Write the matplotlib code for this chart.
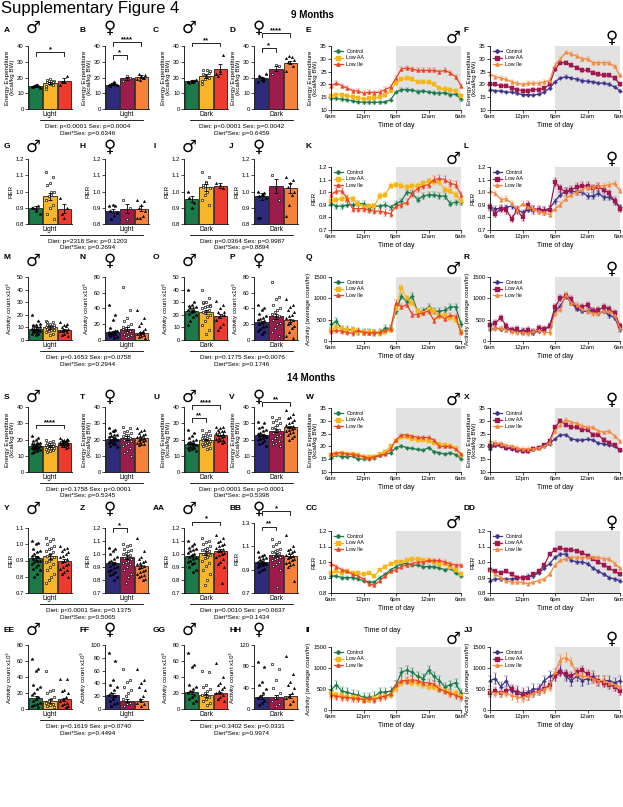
"""Supplementary Figure 4: energy expenditure, RER and activity at 9 and 14 months."""

import matplotlib.pyplot as plt
import numpy as np
from matplotlib.lines import Line2D

plt.rcParams["font.family"] = ["Liberation Sans", "DejaVu Sans"]

W, H = 623, 807

GROUPS = ["Control", "Low AA", "Low Ile"]
HOURS = np.arange(25)
HOUR_TICKS = [0, 6, 12, 18, 24]
HOUR_LABELS = ["6am", "12pm", "6pm", "12am", "6am"]

BAR_COLORS = {"m": ["#1c7a4a", "#f7b52a", "#ee3b2f"], "f": ["#2f2b7c", "#9c1c4b", "#f5813a"]}
LINE_COLORS = {"m": ["#1b7a4b", "#f6b619", "#ef4423"], "f": ["#3b3289", "#a0174f", "#f7883b"]}

# ---------------- 9 months: bar panels ----------------
A_MEAN, A_SEM = [14.5, 16.5, 18.0], [0.5, 0.8, 1.5]
A_PTS = [[14, 14.5, 15, 14, 13.5, 15, 14.5], [13, 15, 16, 17, 17.5, 18, 16.5, 14.5, 17, 19, 18.5], [15, 21, 18, 17]]
A_SIG = [(0, 2, 36, "*")]
B_MEAN, B_SEM = [15.5, 19.5, 20.5], [0.5, 1.0, 1.0]
B_PTS = [[15, 16, 16.5, 14.5, 15.5, 17, 16], [18, 20, 21], [19, 20, 21, 22, 21.5, 20, 18.5]]
B_SIG = [(0, 1, 34, "*"), (0, 2, 42.5, "****")]
C_MEAN, C_SEM = [17.5, 21.0, 25.5], [0.7, 1.2, 3.0]
C_PTS = [[17, 18, 17.5, 16.5, 18.5, 17], [18, 20, 21, 22, 24, 25, 19, 16, 23, 20.5, 25], [22, 34, 24, 21]]
C_SIG = [(0, 2, 42, "**")]
D_MEAN, D_SEM = [19.5, 25.5, 29.5], [1.0, 1.5, 1.2]
D_PTS = [[17, 19, 20, 21, 22, 18, 20.5], [22, 27, 28], [24, 27, 29, 30, 31, 33, 33.5, 32.5]]
D_SIG = [(0, 1, 38.5, "*"), (0, 2, 48, "****")]

G_MEAN, G_SEM = [0.90, 0.97, 0.895], [0.01, 0.02, 0.03]
G_PTS = [[0.9, 0.91, 0.88, 0.9, 0.86],
         [1.12, 1.09, 1.05, 1.04, 1.0, 0.98, 0.97, 0.95, 0.92, 0.9, 0.86, 0.83, 1.0],
         [0.96, 0.9, 0.84, 0.86]]
H_MEAN, H_SEM = [0.88, 0.895, 0.895], [0.01, 0.03, 0.015]
H_PTS = [[0.91, 0.91, 0.92, 0.88, 0.87, 0.85, 0.83], [0.95, 0.9, 0.83],
         [0.95, 0.94, 0.92, 0.9, 0.88, 0.85, 0.84, 0.84]]
I_MEAN, I_SEM = [0.955, 1.025, 1.035], [0.02, 0.02, 0.015]
I_PTS = [[1.0, 0.93, 0.9, 0.96], [1.12, 1.09, 1.06, 1.04, 1.02, 1.0, 0.98, 0.95, 0.92, 1.05, 1.03],
         [1.05, 1.02, 1.04]]
J_MEAN, J_SEM = [0.97, 1.035, 1.02], [0.02, 0.045, 0.03]
J_PTS = [[1.0, 0.99, 0.98, 0.97, 0.96, 0.98, 0.84, 0.84], [1.1, 0.95, 1.03],
         [1.09, 1.07, 1.05, 1.03, 1.0, 0.98, 0.92, 0.85]]

M_MEAN, M_SEM = [9, 10, 8], [1, 1, 1]
M_PTS = [[20, 15, 12, 11, 10, 10, 9, 9, 8, 8, 7, 7, 6, 6, 5, 5, 4, 12, 13, 8],
         [15, 14, 13, 12, 12, 11, 11, 10, 10, 9, 9, 8, 8, 7, 6, 5, 4, 14, 10],
         [14, 13, 12, 10, 9, 8, 8, 7, 6, 5, 4, 3, 11, 7]]
N_MEAN, N_SEM = [10, 13.5, 9], [1.5, 2.5, 1.5]
N_PTS = [[44, 32, 25, 15, 12, 10, 9, 8, 7, 6, 5, 4, 3, 8, 10, 12],
         [67, 38, 28, 24, 20, 18, 15, 14, 12, 10, 8, 6, 5, 4, 16, 12],
         [38, 28, 22, 18, 14, 12, 10, 8, 6, 5, 4, 3, 9, 7]]
O_MEAN, O_SEM = [23, 22.5, 19], [1, 1.5, 1.5]
O_PTS = [[40, 30, 28, 27, 26, 25, 25, 24, 23, 22, 21, 20, 18, 15, 12],
         [40, 33, 30, 29, 28, 27, 26, 25, 24, 23, 22, 20, 18, 15, 12, 8, 5, 30, 27],
         [31, 28, 25, 22, 20, 20, 18, 16, 13, 10, 8, 22]]
P_MEAN, P_SEM = [23, 30, 25], [1.5, 3, 2]
P_PTS = [[45, 40, 38, 33, 30, 28, 27, 25, 24, 22, 20, 18, 16, 14, 12, 10, 8],
         [74, 55, 52, 45, 40, 38, 35, 33, 30, 28, 25, 22, 20, 15, 10, 5],
         [52, 45, 42, 38, 35, 32, 30, 28, 25, 22, 20, 18, 15, 10, 5, 3]]

# ---------------- 14 months: bar panels ----------------
S_MEAN, S_SEM = [16, 16, 18], [0.4, 0.4, 0.3]
S_PTS = [[22, 21, 20, 19, 18, 18, 17.5, 17, 17, 16.5, 16, 16, 15.5, 15, 15, 14.5, 14, 14, 13.5, 13, 12.5, 12],
         [20, 19, 18.5, 18, 17.5, 17, 17, 16.5, 16, 16, 15.5, 15, 15, 14.5, 14, 13.5, 13, 12.5],
         [21, 20.5, 20, 20, 19.5, 19, 19, 18.5, 18.5, 18, 18, 17.5, 17.5, 17, 17, 16.5, 16, 16, 15.5, 15]]
S_SIG = [(0, 2, 29, "****")]
T_MEAN, T_SEM = [20.5, 21, 21], [0.8, 1.2, 0.8]
T_PTS = [[27, 26, 25, 24, 23, 22.5, 22, 21.5, 21, 20.5, 20, 19.5, 19, 18.5, 18, 17.5, 17, 16, 15.5, 25.5],
         [28, 27, 25, 24.5, 24, 23, 22.5, 22, 21, 20.5, 20, 19, 18, 17, 16, 15, 13, 12, 10],
         [27, 26, 25, 24, 23.5, 23, 22, 21.5, 21, 20.5, 20, 19.5, 19, 18.5, 18, 17.5, 17, 16.5]]
U_MEAN, U_SEM = [17.5, 20, 22.5], [0.5, 0.5, 0.4]
U_PTS = [[26, 24, 22, 21, 20, 19, 18.5, 18, 17.5, 17, 17, 16.5, 16, 15.5, 15, 14.5, 14, 13.5, 13],
         [26, 25, 24, 23, 22.5, 22, 21.5, 21, 20.5, 20, 19.5, 19, 18.5, 18, 17.5, 17, 16.5, 16, 15, 14],
         [28, 27.5, 27, 26, 25.5, 25, 24.5, 24, 23.5, 23, 22.5, 22, 21.5, 21, 20.5, 20, 19.5, 19, 18.5, 18]]
U_SIG = [(0, 1, 33, "**"), (0, 2, 41, "****")]
V_MEAN, V_SEM = [22.5, 25.5, 27.5], [0.6, 1.0, 0.6]
V_PTS = [[31, 30, 28, 27, 26, 25, 24, 23.5, 23, 22.5, 22, 21.5, 21, 20.5, 20, 19, 18, 17, 16],
         [34, 33, 32, 31, 30, 29, 28, 27, 26, 25, 24, 23, 22, 21, 20, 19, 18, 17, 16],
         [38, 36, 34, 33, 32, 31, 30, 29, 28.5, 28, 27.5, 27, 26.5, 26, 25, 24.5, 24, 23, 22, 21, 20]]
V_SIG = [(0, 2, 43, "**")]

Y_MEAN, Y_SEM = [0.915, 0.925, 0.90], [0.01, 0.015, 0.012]
Y_PTS = [[1.02, 1.01, 1.0, 0.97, 0.96, 0.95, 0.94, 0.93, 0.92, 0.92, 0.91, 0.9, 0.9, 0.89, 0.88, 0.87, 0.86, 0.85, 0.84, 0.82, 0.8],
         [1.04, 1.03, 1.02, 1.0, 0.99, 0.98, 0.97, 0.96, 0.95, 0.94, 0.93, 0.92, 0.91, 0.9, 0.89, 0.88, 0.86, 0.84, 0.82, 0.8, 0.78, 0.76],
         [0.99, 0.98, 0.97, 0.96, 0.95, 0.94, 0.93, 0.92, 0.91, 0.9, 0.89, 0.88, 0.87, 0.86, 0.85, 0.84, 0.83, 0.82, 0.8]]
Z_MEAN, Z_SEM = [0.93, 0.975, 0.905], [0.012, 0.015, 0.012]
Z_PTS = [[1.05, 1.04, 1.02, 1.0, 0.98, 0.96, 0.95, 0.94, 0.93, 0.92, 0.91, 0.9, 0.89, 0.88, 0.87, 0.86, 0.85, 0.84, 0.82, 0.8],
         [1.08, 1.07, 1.06, 1.04, 1.03, 1.02, 1.01, 1.0, 0.99, 0.98, 0.97, 0.96, 0.95, 0.94, 0.93, 0.92, 0.9, 0.88, 0.85, 0.82, 0.78],
         [1.12, 1.02, 0.98, 0.96, 0.95, 0.94, 0.93, 0.92, 0.91, 0.9, 0.89, 0.88, 0.87, 0.86, 0.85, 0.84, 0.83, 0.82, 0.81, 0.8]]
Z_SIG = [(0, 1, 1.2, "*")]
AA_MEAN, AA_SEM = [0.985, 1.01, 1.025], [0.01, 0.015, 0.012]
AA_PTS = [[1.1, 1.08, 1.06, 1.05, 1.04, 1.03, 1.02, 1.01, 1.0, 0.99, 0.98, 0.97, 0.96, 0.95, 0.94, 0.93, 0.92, 0.9, 0.88, 0.86],
          [1.12, 1.1, 1.09, 1.08, 1.06, 1.05, 1.04, 1.03, 1.02, 1.01, 1.0, 0.99, 0.98, 0.97, 0.95, 0.93, 0.91, 0.88, 0.85, 0.8, 0.76],
          [1.15, 1.12, 1.1, 1.09, 1.08, 1.07, 1.06, 1.05, 1.04, 1.03, 1.02, 1.01, 1.0, 0.99, 0.98, 0.96, 0.94, 0.92, 0.9, 0.78]]
AA_SIG = [(0, 2, 1.25, "*")]
BB_MEAN, BB_SEM = [0.965, 1.03, 1.02], [0.01, 0.015, 0.015]
BB_PTS = [[1.05, 1.03, 1.02, 1.01, 1.0, 0.99, 0.98, 0.97, 0.96, 0.96, 0.95, 0.95, 0.94, 0.93, 0.92, 0.91, 0.9, 0.88],
          [1.16, 1.14, 1.12, 1.1, 1.08, 1.07, 1.06, 1.05, 1.04, 1.03, 1.02, 1.01, 1.0, 0.99, 0.98, 0.97, 0.95, 0.93, 0.9, 0.75],
          [1.2, 1.1, 1.08, 1.07, 1.06, 1.05, 1.04, 1.03, 1.02, 1.01, 1.0, 0.99, 0.98, 0.97, 0.96, 0.95, 0.94, 0.92, 0.8]]
BB_SIG = [(0, 1, 1.27, "**"), (0, 2, 1.4, "*")]

EE_MEAN, EE_SEM = [14, 10, 12], [2.5, 2, 2]
EE_PTS = [[62, 50, 48, 30, 28, 25, 20, 18, 15, 12, 10, 8, 6, 5, 4, 3],
          [48, 24, 22, 20, 15, 12, 10, 8, 6, 5, 4, 3],
          [38, 37, 24, 22, 20, 15, 12, 10, 8, 6, 5, 4, 3]]
FF_MEAN, FF_SEM = [22, 13, 13], [3.5, 2.5, 2.5]
FF_PTS = [[87, 75, 45, 38, 35, 30, 25, 22, 20, 15, 12, 10, 8, 5],
          [63, 45, 42, 35, 30, 25, 20, 15, 10, 8, 5],
          [63, 45, 40, 35, 30, 20, 15, 10, 8, 5]]
GG_MEAN, GG_SEM = [21, 17, 20], [2, 1.5, 1.5]
GG_PTS = [[70, 55, 52, 30, 28, 25, 22, 20, 18, 15, 12, 10, 8],
          [47, 46, 30, 28, 25, 22, 20, 18, 15, 12, 10, 8, 5],
          [57, 40, 32, 30, 28, 25, 22, 20, 18, 15, 12, 10]]
HH_MEAN, HH_SEM = [22, 22, 25], [4, 4, 4]
HH_PTS = [[88, 78, 50, 45, 38, 30, 25, 20, 15, 12, 8],
          [85, 75, 55, 40, 30, 25, 20, 15, 10, 5],
          [100, 65, 50, 45, 40, 30, 25, 20, 15, 10]]

# ---------------- time courses (6am -> 6am, hourly) ----------------
E_CTRL = [14.5, 14.5, 14.2, 14, 13.5, 13.2, 13, 13, 13, 13, 13.2, 14, 17, 18, 18, 17.8, 17.2, 17.5, 17, 16.8, 16.5, 16.8, 16, 16.2, 14.2]
E_AA = [15.5, 16, 16, 15.5, 15.2, 14.8, 14.2, 14.5, 14.8, 15, 15.8, 17.5, 20.5, 22, 22.5, 22, 21, 21, 20.8, 20, 18.5, 18.2, 18, 17.5, 15.5]
E_ILE = [19.5, 20.5, 19.5, 18.5, 17.5, 17.5, 16.5, 17, 16.8, 17, 18, 19, 22.5, 26, 26.5, 26, 25.5, 25.5, 25.5, 25.5, 25, 25.5, 24.5, 23, 19.5]
E_ERR = [0.5, 0.6, 0.8]
F_CTRL = [18, 17.5, 17.5, 17, 17, 16.5, 16, 16, 15.8, 16.2, 17, 18.5, 21, 22.5, 23, 22.5, 22, 21.5, 21.2, 21, 20.5, 20.5, 20, 19, 17.5]
F_AA = [20, 20, 19.5, 19.5, 18.5, 18, 17.5, 17.5, 18, 18, 18.5, 20, 26, 28.5, 28.5, 27.5, 26.5, 25.5, 25.5, 24.5, 24, 23.5, 23.5, 22.5, 20]
F_ILE = [24, 23, 22.5, 22, 21, 20.5, 20, 20.5, 20.5, 20.5, 21, 21.5, 27.5, 30, 32.5, 32, 31, 30, 30, 28.5, 28.5, 28.5, 28.5, 27, 23.5]
F_ERR = [0.5, 0.6, 0.7]

K_CTRL = [0.91, 0.89, 0.89, 0.9, 0.9, 0.91, 0.91, 0.87, 0.89, 0.89, 0.9, 0.88, 0.91, 0.93, 1.0, 0.99, 0.94, 0.97, 0.98, 0.98, 0.97, 0.97, 0.91, 0.92, 0.92]
K_AA = [0.93, 0.94, 0.95, 0.95, 0.95, 0.91, 0.88, 0.89, 0.89, 0.97, 0.98, 1.05, 1.06, 1.05, 1.04, 1.05, 1.05, 1.07, 1.09, 1.08, 1.08, 1.02, 1.01, 0.98, 0.93]
K_ILE = [0.98, 1.01, 1.01, 0.95, 0.87, 0.87, 0.87, 0.86, 0.85, 0.85, 0.84, 0.83, 0.89, 0.9, 0.92, 0.99, 1.03, 1.05, 1.06, 1.1, 1.11, 1.1, 1.07, 1.06, 0.98]
K_ERR = [0.02, 0.02, 0.025]
L_CTRL = [0.88, 0.87, 0.87, 0.88, 0.89, 0.86, 0.84, 0.86, 0.87, 0.86, 0.86, 0.87, 0.93, 0.98, 1.01, 1.01, 1.0, 1.0, 0.97, 0.97, 0.99, 0.96, 0.96, 0.93, 0.88]
L_AA = [0.88, 0.83, 0.87, 0.86, 0.79, 0.86, 0.8, 0.9, 0.86, 0.86, 0.85, 0.86, 1.08, 1.03, 1.0, 1.02, 1.04, 1.05, 1.05, 1.03, 1.04, 1.02, 0.99, 0.93, 0.87]
L_ILE = [1.01, 0.99, 0.94, 0.95, 0.91, 0.86, 0.91, 0.88, 0.87, 0.85, 0.84, 0.82, 0.87, 0.9, 0.95, 0.98, 1.0, 1.02, 1.04, 1.04, 1.05, 1.05, 1.06, 1.07, 1.01]
L_ERR = [0.02, 0.03, 0.02]

Q_CTRL = [390, 460, 280, 270, 260, 220, 220, 200, 180, 200, 300, 300, 700, 1050, 920, 1050, 680, 700, 800, 700, 700, 720, 800, 800, 400]
Q_AA = [250, 330, 280, 250, 250, 220, 200, 200, 200, 180, 220, 260, 750, 1250, 1000, 900, 700, 650, 750, 700, 580, 600, 550, 500, 220]
Q_ILE = [230, 250, 230, 200, 180, 250, 200, 190, 200, 200, 250, 280, 900, 800, 850, 620, 620, 660, 700, 480, 600, 520, 600, 580, 200]
Q_ERR = [70, 60, 60]
R_CTRL = [280, 300, 280, 270, 250, 230, 250, 220, 200, 230, 250, 350, 700, 820, 1050, 900, 750, 700, 700, 720, 650, 700, 600, 550, 270]
R_AA = [370, 420, 550, 350, 250, 270, 200, 250, 200, 300, 290, 350, 800, 1000, 1050, 980, 800, 800, 850, 700, 720, 800, 750, 650, 350]
R_ILE = [300, 300, 300, 260, 230, 200, 200, 180, 230, 250, 200, 200, 650, 750, 1080, 900, 850, 750, 700, 650, 650, 700, 700, 600, 300]
R_ERR = [50, 70, 60]

W_CTRL = [15.5, 16.5, 16, 16, 16.2, 15, 15.2, 15.2, 15.5, 16.5, 17, 17.5, 19.5, 20.2, 19.5, 19.2, 18.8, 18.5, 19.5, 18, 17.5, 17, 17.5, 16.8, 15.2]
W_AA = [16.5, 17, 17.5, 17, 17, 16.5, 16, 16, 16, 17, 18, 20, 22, 23.5, 23.5, 23, 22.5, 22.5, 22, 21.5, 21, 20.5, 20, 19.5, 16.8]
W_ILE = [17, 17.5, 17.5, 17, 17, 16.5, 16, 15.5, 16, 16.5, 17, 19, 22.5, 24.5, 24.5, 24, 23.5, 23.5, 23.5, 22.5, 20, 20, 20, 19, 17]
W_ERR = [0.3, 0.4, 0.5]
X_CTRL = [19, 20.5, 20, 19.5, 19, 18.5, 18.5, 18.5, 19, 19.5, 20, 21, 23, 24.5, 24.5, 23, 22.5, 22.5, 22.8, 22.5, 21.2, 21, 20.5, 20, 18.5]
X_AA = [20, 20.5, 20.5, 19.5, 19.2, 18.5, 18.2, 18.2, 18.8, 19.5, 20.5, 22, 27.5, 30, 28.5, 27.5, 27.5, 26.5, 26.5, 24.5, 24.5, 22.5, 21.5, 20.5, 18.5]
X_ILE = [22, 21.5, 21, 20.5, 20, 19.5, 19, 19, 19, 19.5, 20, 21.5, 26, 28.5, 30.5, 29.5, 29, 28, 27.5, 27.5, 26, 25.5, 26, 24, 22]
X_ERR = [0.4, 0.6, 0.6]

CC_CTRL = [0.91, 0.91, 0.9, 0.9, 0.9, 0.89, 0.88, 0.87, 0.87, 0.9, 0.92, 0.95, 0.97, 0.99, 0.99, 0.98, 0.98, 0.97, 0.97, 0.97, 0.96, 0.95, 0.96, 0.93, 0.91]
CC_AA = [0.93, 0.94, 0.93, 0.94, 0.93, 0.93, 0.92, 0.93, 0.91, 0.95, 0.97, 0.99, 1.0, 1.0, 1.01, 1.02, 1.02, 1.01, 1.01, 1.0, 0.99, 0.99, 0.97, 0.95, 0.92]
CC_ILE = [0.99, 0.97, 0.95, 0.94, 0.92, 0.91, 0.89, 0.86, 0.85, 0.88, 0.91, 0.94, 0.95, 0.97, 0.98, 0.99, 1.0, 1.0, 1.01, 1.01, 1.01, 1.0, 0.99, 0.98, 0.98]
CC_ERR = [0.008, 0.008, 0.01]
DD_CTRL = [0.88, 0.89, 0.89, 0.89, 0.89, 0.9, 0.9, 0.91, 0.91, 0.93, 0.96, 0.99, 1.03, 1.05, 1.05, 1.01, 1.0, 1.0, 0.99, 0.96, 0.94, 0.92, 0.9, 0.89, 0.88]
DD_AA = [0.95, 0.94, 0.93, 0.94, 0.92, 0.9, 0.9, 0.9, 0.92, 0.94, 0.98, 1.05, 1.08, 1.09, 1.08, 1.08, 1.07, 1.06, 1.04, 1.02, 1.0, 0.98, 0.96, 0.94, 0.92]
DD_ILE = [0.95, 0.92, 0.9, 0.88, 0.87, 0.87, 0.87, 0.86, 0.87, 0.88, 0.89, 0.92, 0.98, 1.01, 1.02, 1.03, 1.03, 1.03, 1.03, 1.03, 1.03, 1.02, 1.02, 0.99, 0.96]
DD_ERR = [0.01, 0.01, 0.01]

II_CTRL = [480, 600, 450, 420, 380, 350, 300, 300, 320, 420, 430, 450, 600, 900, 950, 900, 800, 750, 950, 800, 700, 550, 600, 650, 400]
II_AA = [400, 350, 350, 300, 300, 280, 250, 250, 280, 300, 330, 350, 500, 650, 700, 650, 650, 600, 550, 550, 500, 450, 400, 400, 330]
II_ILE = [350, 330, 300, 300, 280, 280, 250, 280, 250, 300, 330, 380, 600, 700, 700, 720, 700, 650, 650, 620, 500, 450, 400, 350, 300]
II_ERR = [100, 70, 80]
JJ_CTRL = [700, 750, 550, 700, 450, 450, 400, 420, 500, 500, 700, 800, 850, 950, 800, 700, 800, 700, 750, 800, 700, 700, 700, 650, 700]
JJ_AA = [400, 450, 400, 450, 500, 400, 350, 350, 400, 450, 500, 600, 800, 900, 850, 800, 900, 950, 850, 750, 700, 650, 600, 550, 450]
JJ_ILE = [450, 400, 420, 400, 350, 300, 300, 350, 400, 450, 500, 550, 900, 1200, 1250, 1150, 850, 800, 800, 750, 700, 700, 650, 600, 550]
JJ_ERR = [120, 100, 100]

STATS = [
    ("Diet: p<0.0001 Sex: p=0.0004", "Diet*Sex: p=0.6346", "Diet: p<0.0001 Sex: p=0.0042", "Diet*Sex: p=0.6459"),
    ("Diet: p=2318 Sex: p=0.1203", "Diet*Sex: p=0.2694", "Diet: p=0.0364 Sex: p=0.9987", "Diet*Sex: p=0.8894"),
    ("Diet: p=0.1653 Sex: p=0.0758", "Diet*Sex: p=0.2944", "Diet: p=0.1775 Sex: p=0.0076", "Diet*Sex: p=0.1746"),
    ("Diet: p=0.1758 Sex: p<0.0001", "Diet*Sex: p=0.5345", "Diet: p<0.0001 Sex: p<0.0001", "Diet*Sex: p=0.5398"),
    ("Diet: p<0.0001 Sex: p=0.1375", "Diet*Sex: p=0.5065", "Diet: p=0.0010 Sex: p=0.0637", "Diet*Sex: p=0.1434"),
    ("Diet: p=0.1619 Sex: p=0.0740", "Diet*Sex: p=0.4494", "Diet: p=0.3402 Sex: p=0.0331", "Diet*Sex: p=0.9974"),
]

# ---------------- layout (pixels) ----------------
BAR_ROWS = [(46, 109), (159, 224), (277, 340), (407, 472), (528, 593), (645, 709)]
LINE_ROWS = [(46, 110), (167, 230), (277, 341), (408, 472), (531, 593), (647, 710)]
LETTER_Y = [30, 146, 258, 397, 509, 630]
SYMBOL_Y = [28, 147, 261, 397, 509, 630]
BAR_LEFTS = [28, 105, 184, 254]
BAR_LETTER_X = [4, 80, 153, 229]
LINE_LEFTS = [331, 490]
LINE_LETTER_X = [306, 464]

EE_LABEL = "Energy Expenditure\n(kcal/kg BW)"
ACT_LABEL = "Activity count x10$^3$"
LINE_ACT_LABEL = "Activity (average count/hr)"
EE_LIM = ((0, 40), [0, 10, 20, 30, 40], "{:.0f}")
RER_LIM = ((0.8, 1.2), [0.8, 0.9, 1.0, 1.1, 1.2], "{:.1f}")

fig = plt.figure(figsize=(W / 100, H / 100), dpi=100)


def px_axes(left, top, right, bottom):
    return fig.add_axes([left / W, 1 - bottom / H, (right - left) / W, (bottom - top) / H])


def fx(x):
    return x / W


def fy(y):
    return 1 - y / H


def sex_symbol(x, y, sex):
    symbol = "\u2642" if sex == "m" else "\u2640"
    fig.text(fx(x), fy(y), symbol, fontsize=12, fontweight="bold",
             ha="center", va="center", family=["DejaVu Sans"])


def style_axes(ax, lim, fmt):
    ax.set_ylim(lim[0])
    ax.set_yticks(lim[1])
    ax.set_yticklabels([fmt.format(t) for t in lim[1]])
    for side in ("top", "right"):
        ax.spines[side].set_visible(False)
    for side in ("left", "bottom"):
        ax.spines[side].set_linewidth(0.6)
    ax.tick_params(labelsize=4.3, length=2, width=0.5, pad=1)


def bar_panel(row, col, letter, sex, phase, mean, sem, pts, sig, lim, ylabel, top=None):
    t, b = BAR_ROWS[row]
    if top is not None:
        t = top
    left = BAR_LEFTS[col]
    ax = px_axes(left, t, left + 44, b)
    ylim, ticks, fmt = lim
    base = ylim[0]
    x = np.arange(3)
    ax.bar(x, np.array(mean) - base, bottom=base, width=0.93, color=BAR_COLORS[sex],
           edgecolor="black", linewidth=0.5, zorder=1)
    for i, vals in enumerate(pts):
        n = len(vals)
        offs = ((np.arange(n) * 5) % 7 - 3) / 3 * 0.28
        if i == 0:
            ax.plot(i + offs, vals, "*", color="black", ms=2.4, mew=0.3, zorder=2, clip_on=False)
        elif i == 1:
            ax.plot(i + offs, vals, "s", mfc="white", mec="black", ms=1.9, mew=0.45, zorder=2, clip_on=False)
        else:
            ax.plot(i + offs, vals, "^", color="black", ms=1.9, mew=0.2, zorder=2, clip_on=False)
    ax.errorbar(x, mean, yerr=sem, fmt="none", ecolor="black", elinewidth=0.6,
                capsize=1.6, capthick=0.6, zorder=3)
    rng = ylim[1] - ylim[0]
    for i0, i1, y, star in sig:
        leg = rng * 0.055
        ax.plot([i0, i0, i1, i1], [y - leg, y, y, y - leg], color="black", lw=0.6, clip_on=False)
        ax.text((i0 + i1) / 2, y - rng * 0.015, star, ha="center", va="bottom",
                fontsize=5.5, fontweight="bold", clip_on=False)
    ax.set_xlim(-0.55, 2.55)
    ax.set_xticks([])
    style_axes(ax, lim, fmt)
    ax.set_xlabel(phase, fontsize=4.8, labelpad=1.5)
    ax.set_ylabel(ylabel, fontsize=4.5, labelpad=1.5, linespacing=1.0)
    fig.text(fx(BAR_LETTER_X[col]), fy(LETTER_Y[row]), letter, fontsize=6, fontweight="bold", va="center")
    sex_symbol(left + 5, SYMBOL_Y[row], sex)
    return ax


def line_panel(row, col, letter, sex, series, err, lim, ylabel):
    t, b = LINE_ROWS[row]
    left = LINE_LEFTS[col]
    ax = px_axes(left, t, left + 130, b)
    ylim, ticks, fmt = lim
    ax.axvspan(12, 24, color="#e2e2e2", lw=0, zorder=0)
    handles = []
    for vals, e, c, m, lab in zip(series, err, LINE_COLORS[sex], ["P", "s", "^"], GROUPS):
        ax.errorbar(HOURS, vals, yerr=e, color=c, marker=m, ms=2.4, mew=0.3, lw=0.9,
                    elinewidth=0.6, capsize=1.2, capthick=0.6, zorder=2, clip_on=False)
        handles.append(Line2D([], [], color=c, marker=m, ms=2.4, lw=0.9, label=lab))
    ax.legend(handles=handles, loc="upper left", frameon=False, fontsize=3.8, handlelength=1.8,
              handletextpad=0.6, labelspacing=0.35, borderaxespad=0.2, borderpad=0.3)
    ax.set_xlim(0, 24)
    ax.set_xticks(HOUR_TICKS)
    ax.set_xticklabels(HOUR_LABELS)
    style_axes(ax, lim, fmt)
    ax.set_xlabel("Time of day", fontsize=5, labelpad=2)
    ax.set_ylabel(ylabel, fontsize=4.5, labelpad=1.5, linespacing=1.0)
    fig.text(fx(LINE_LETTER_X[col]), fy(LETTER_Y[row]), letter, fontsize=6, fontweight="bold", va="center")
    sex_symbol(left + 122, t - 8, sex)
    return ax


def stats_block(row, texts):
    b = BAR_ROWS[row][1]
    for (x0, x1, cx), (l1, l2) in zip([(40, 143, 88), (190, 293, 242)], [texts[:2], texts[2:]]):
        fig.add_artist(Line2D([fx(x0), fx(x1)], [fy(b + 11)] * 2, color="black", lw=0.6))
        fig.text(fx(cx), fy(b + 17.5), l1, fontsize=4.6, ha="center", va="center")
        fig.text(fx(cx), fy(b + 24), l2, fontsize=4.6, ha="center", va="center")


# ---- row 1: 9 months energy expenditure ----
bar_panel(0, 0, "A", "m", "Light", A_MEAN, A_SEM, A_PTS, A_SIG, EE_LIM, EE_LABEL)
bar_panel(0, 1, "B", "f", "Light", B_MEAN, B_SEM, B_PTS, B_SIG, EE_LIM, EE_LABEL)
bar_panel(0, 2, "C", "m", "Dark", C_MEAN, C_SEM, C_PTS, C_SIG, EE_LIM, EE_LABEL)
bar_panel(0, 3, "D", "f", "Dark", D_MEAN, D_SEM, D_PTS, D_SIG, EE_LIM, EE_LABEL)
EE_LINE = ((10, 35), [10, 15, 20, 25, 30, 35], "{:.0f}")
line_panel(0, 0, "E", "m", [E_CTRL, E_AA, E_ILE], E_ERR, EE_LINE, EE_LABEL)
line_panel(0, 1, "F", "f", [F_CTRL, F_AA, F_ILE], F_ERR, EE_LINE, EE_LABEL)

# ---- row 2: 9 months RER ----
bar_panel(1, 0, "G", "m", "Light", G_MEAN, G_SEM, G_PTS, [], RER_LIM, "RER")
bar_panel(1, 1, "H", "f", "Light", H_MEAN, H_SEM, H_PTS, [], RER_LIM, "RER")
bar_panel(1, 2, "I", "m", "Dark", I_MEAN, I_SEM, I_PTS, [], RER_LIM, "RER")
bar_panel(1, 3, "J", "f", "Dark", J_MEAN, J_SEM, J_PTS, [], RER_LIM, "RER")
RER_LINE = ((0.7, 1.2), [0.7, 0.8, 0.9, 1.0, 1.1, 1.2], "{:.1f}")
line_panel(1, 0, "K", "m", [K_CTRL, K_AA, K_ILE], K_ERR, RER_LINE, "RER")
line_panel(1, 1, "L", "f", [L_CTRL, L_AA, L_ILE], L_ERR, RER_LINE, "RER")

# ---- row 3: 9 months activity ----
ACT50 = ((0, 50), [0, 10, 20, 30, 40, 50], "{:.0f}")
ACT80 = ((0, 80), [0, 20, 40, 60, 80], "{:.0f}")
bar_panel(2, 0, "M", "m", "Light", M_MEAN, M_SEM, M_PTS, [], ACT50, ACT_LABEL)
bar_panel(2, 1, "N", "f", "Light", N_MEAN, N_SEM, N_PTS, [], ACT80, ACT_LABEL)
bar_panel(2, 2, "O", "m", "Dark", O_MEAN, O_SEM, O_PTS, [], ACT50, ACT_LABEL)
bar_panel(2, 3, "P", "f", "Dark", P_MEAN, P_SEM, P_PTS, [], ACT80, ACT_LABEL)
ACT_LINE = ((0, 1500), [0, 500, 1000, 1500], "{:.0f}")
line_panel(2, 0, "Q", "m", [Q_CTRL, Q_AA, Q_ILE], Q_ERR, ACT_LINE, LINE_ACT_LABEL)
line_panel(2, 1, "R", "f", [R_CTRL, R_AA, R_ILE], R_ERR, ACT_LINE, LINE_ACT_LABEL)

# ---- row 4: 14 months energy expenditure ----
bar_panel(3, 0, "S", "m", "Light", S_MEAN, S_SEM, S_PTS, S_SIG, EE_LIM, EE_LABEL)
bar_panel(3, 1, "T", "f", "Light", T_MEAN, T_SEM, T_PTS, [], EE_LIM, EE_LABEL)
bar_panel(3, 2, "U", "m", "Dark", U_MEAN, U_SEM, U_PTS, U_SIG, EE_LIM, EE_LABEL)
bar_panel(3, 3, "V", "f", "Dark", V_MEAN, V_SEM, V_PTS, V_SIG, EE_LIM, EE_LABEL)
line_panel(3, 0, "W", "m", [W_CTRL, W_AA, W_ILE], W_ERR, EE_LINE, EE_LABEL)
line_panel(3, 1, "X", "f", [X_CTRL, X_AA, X_ILE], X_ERR, EE_LINE, EE_LABEL)

# ---- row 5: 14 months RER ----
RER11 = ((0.7, 1.1), [0.7, 0.8, 0.9, 1.0, 1.1], "{:.1f}")
RER12 = ((0.7, 1.2), [0.7, 0.8, 0.9, 1.0, 1.1, 1.2], "{:.1f}")
RER13 = ((0.7, 1.3), [0.7, 0.9, 1.1, 1.3], "{:.1f}")
bar_panel(4, 0, "Y", "m", "Light", Y_MEAN, Y_SEM, Y_PTS, [], RER11, "RER")
bar_panel(4, 1, "Z", "f", "Light", Z_MEAN, Z_SEM, Z_PTS, Z_SIG, RER12, "RER")
bar_panel(4, 2, "AA", "m", "Dark", AA_MEAN, AA_SEM, AA_PTS, AA_SIG, RER12, "RER")
bar_panel(4, 3, "BB", "f", "Dark", BB_MEAN, BB_SEM, BB_PTS, BB_SIG, RER13, "RER", top=523)
RER_LINE2 = ((0.8, 1.2), [0.8, 0.9, 1.0, 1.1, 1.2], "{:.1f}")
line_panel(4, 0, "CC", "m", [CC_CTRL, CC_AA, CC_ILE], CC_ERR, RER_LINE2, "RER")
line_panel(4, 1, "DD", "f", [DD_CTRL, DD_AA, DD_ILE], DD_ERR, RER_LINE2, "RER")

# ---- row 6: 14 months activity ----
ACT100 = ((0, 100), [0, 20, 40, 60, 80, 100], "{:.0f}")
ACT120 = ((0, 120), [0, 40, 80, 120], "{:.0f}")
bar_panel(5, 0, "EE", "m", "Light", EE_MEAN, EE_SEM, EE_PTS, [], ACT80, ACT_LABEL)
bar_panel(5, 1, "FF", "f", "Light", FF_MEAN, FF_SEM, FF_PTS, [], ACT100, ACT_LABEL)
bar_panel(5, 2, "GG", "m", "Dark", GG_MEAN, GG_SEM, GG_PTS, [], ACT80, ACT_LABEL)
bar_panel(5, 3, "HH", "f", "Dark", HH_MEAN, HH_SEM, HH_PTS, [], ACT120, ACT_LABEL)
line_panel(5, 0, "II", "m", [II_CTRL, II_AA, II_ILE], II_ERR, ACT_LINE, LINE_ACT_LABEL)
line_panel(5, 1, "JJ", "f", [JJ_CTRL, JJ_AA, JJ_ILE], JJ_ERR, ACT_LINE, LINE_ACT_LABEL)

for r, texts in enumerate(STATS):
    stats_block(r, texts)

fig.text(fx(1), fy(9), "Supplementary Figure 4", fontsize=12, va="center", ha="left")
fig.text(fx(312), fy(15), "9 Months", fontsize=7, fontweight="bold", ha="center", va="center")
fig.text(fx(311), fy(378), "14 Months", fontsize=7, fontweight="bold", ha="center", va="center")
fig.text(fx(382), fy(630), "Time of day", fontsize=5, ha="center", va="center")

fig.savefig("out.png", dpi=100)
